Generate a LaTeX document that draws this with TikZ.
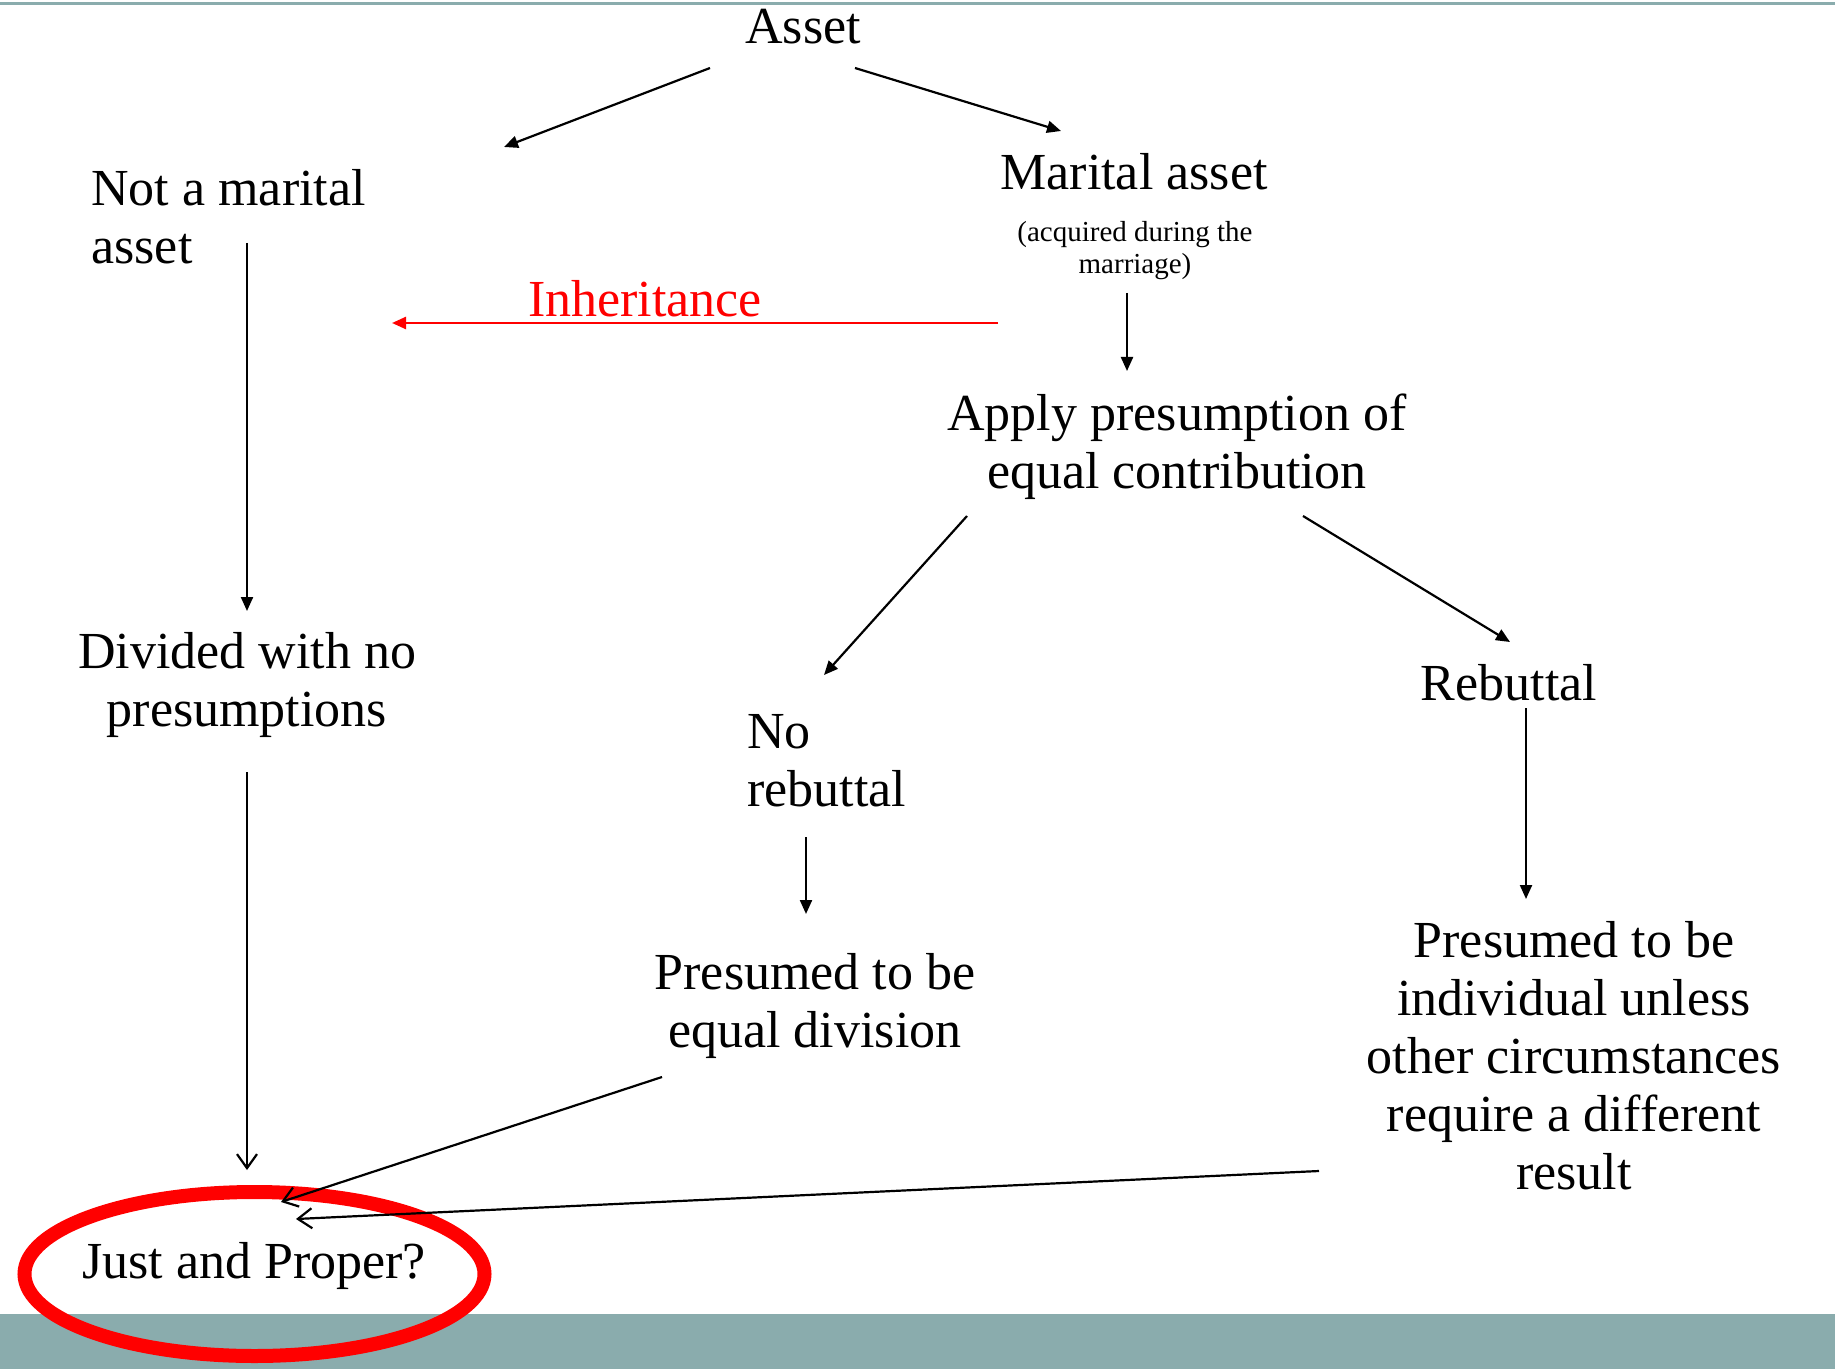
\documentclass[tikz,border=0pt]{standalone}
\usepackage{fontspec}
\setmainfont{Liberation Serif}
\usetikzlibrary{arrows.meta}
\definecolor{barcol}{HTML}{8AACAD}
\definecolor{redc}{HTML}{FF0000}
\begin{document}
\begin{tikzpicture}[x=0.5pt,y=-0.5pt,
  txt/.style={inner sep=0pt, font=\fontsize{26}{29}\selectfont, align=center},
  small/.style={inner sep=0pt, font=\fontsize{14.5}{16}\selectfont, align=center},
  arr/.style={line width=1.1pt, -{Triangle[length=7pt,width=6pt]}},
  openarr/.style={line width=1.1pt, -{Straight Barb[length=7pt,width=10pt]}},
  redarr/.style={line width=1.2pt, redc, -{Triangle[length=7pt,width=6pt]}},
]
\useasboundingbox (0,0) rectangle (1835,1369);
% frame elements
\fill[white] (0,0) rectangle (1835,1369);
\draw[barcol, line width=1.5pt] (0,4) -- (1835,4);
\fill[barcol] (0,1314) rectangle (1835,1369);

% red ellipse round the conclusion
\draw[redc, line width=7pt] (254.5,1274) ellipse [x radius=230, y radius=82];

% nodes
\node[txt, anchor=base] (asset) at (803,44) {Asset};
\node[txt, anchor=north west, align=left] (notm) at (91,169.5) {Not a marital\\asset};
\node[txt, anchor=base] (marital) at (1134,190) {Marital asset};
\node[small, anchor=north] (acq) at (1135,221) {(acquired during the\\marriage)};
\node[txt, anchor=base, text=redc] (inh) at (645,317) {Inheritance};
\node[txt, anchor=north] (apply) at (1177,393) {Apply presumption of\\equal contribution};
\node[txt, anchor=north] (divided) at (247,632.5) {Divided with no\\presumptions};
\node[txt, anchor=base] (rebut) at (1509,700) {Rebuttal};
\node[txt, anchor=north west, align=left] (norebut) at (747,714.5) {No\\rebuttal};
\node[txt, anchor=north] (preseq) at (815,953.5) {Presumed to be\\equal division};
\node[txt, anchor=north] (indiv) at (1574,921.5) {Presumed to be\\individual unless\\other circumstances\\require a different\\result};
\node[txt, anchor=base] (just) at (254,1278) {Just and Proper?};

% connector end points
\coordinate (assetL) at (710,68);
\coordinate (notmT) at (504,147);
\coordinate (assetR) at (855,68);
\coordinate (maritalT) at (1061,131);
\coordinate (inhR) at (998,323);
\coordinate (inhL) at (392,323);
\coordinate (notmB) at (247,243);
\coordinate (dividedT) at (247,611);
\coordinate (dividedB) at (247,772);
\coordinate (justT) at (247,1170);
\coordinate (acqB) at (1127,293);
\coordinate (applyT) at (1127,371);
\coordinate (applyBL) at (967,516);
\coordinate (norebutT) at (824,675);
\coordinate (applyBR) at (1303,516);
\coordinate (rebutT) at (1510,642);
\coordinate (norebutB) at (806,837);
\coordinate (preseqT) at (806,914);
\coordinate (rebutB) at (1526,708);
\coordinate (indivT) at (1526,899);
\coordinate (preseqB) at (662,1077);
\coordinate (justA) at (281,1202);
\coordinate (indivL) at (1319,1171);
\coordinate (justB) at (296,1219);

% connectors
\draw[arr] (assetL) -- (notmT);
\draw[arr] (assetR) -- (maritalT);
\draw[redarr] (inhR) -- (inhL);
\draw[arr] (notmB) -- (dividedT);
\draw[openarr] (dividedB) -- (justT);
\draw[arr] (acqB) -- (applyT);
\draw[arr] (applyBL) -- (norebutT);
\draw[arr] (applyBR) -- (rebutT);
\draw[arr] (norebutB) -- (preseqT);
\draw[arr] (rebutB) -- (indivT);
\draw[openarr] (preseqB) -- (justA);
\draw[openarr] (indivL) -- (justB);
\end{tikzpicture}
\end{document}
